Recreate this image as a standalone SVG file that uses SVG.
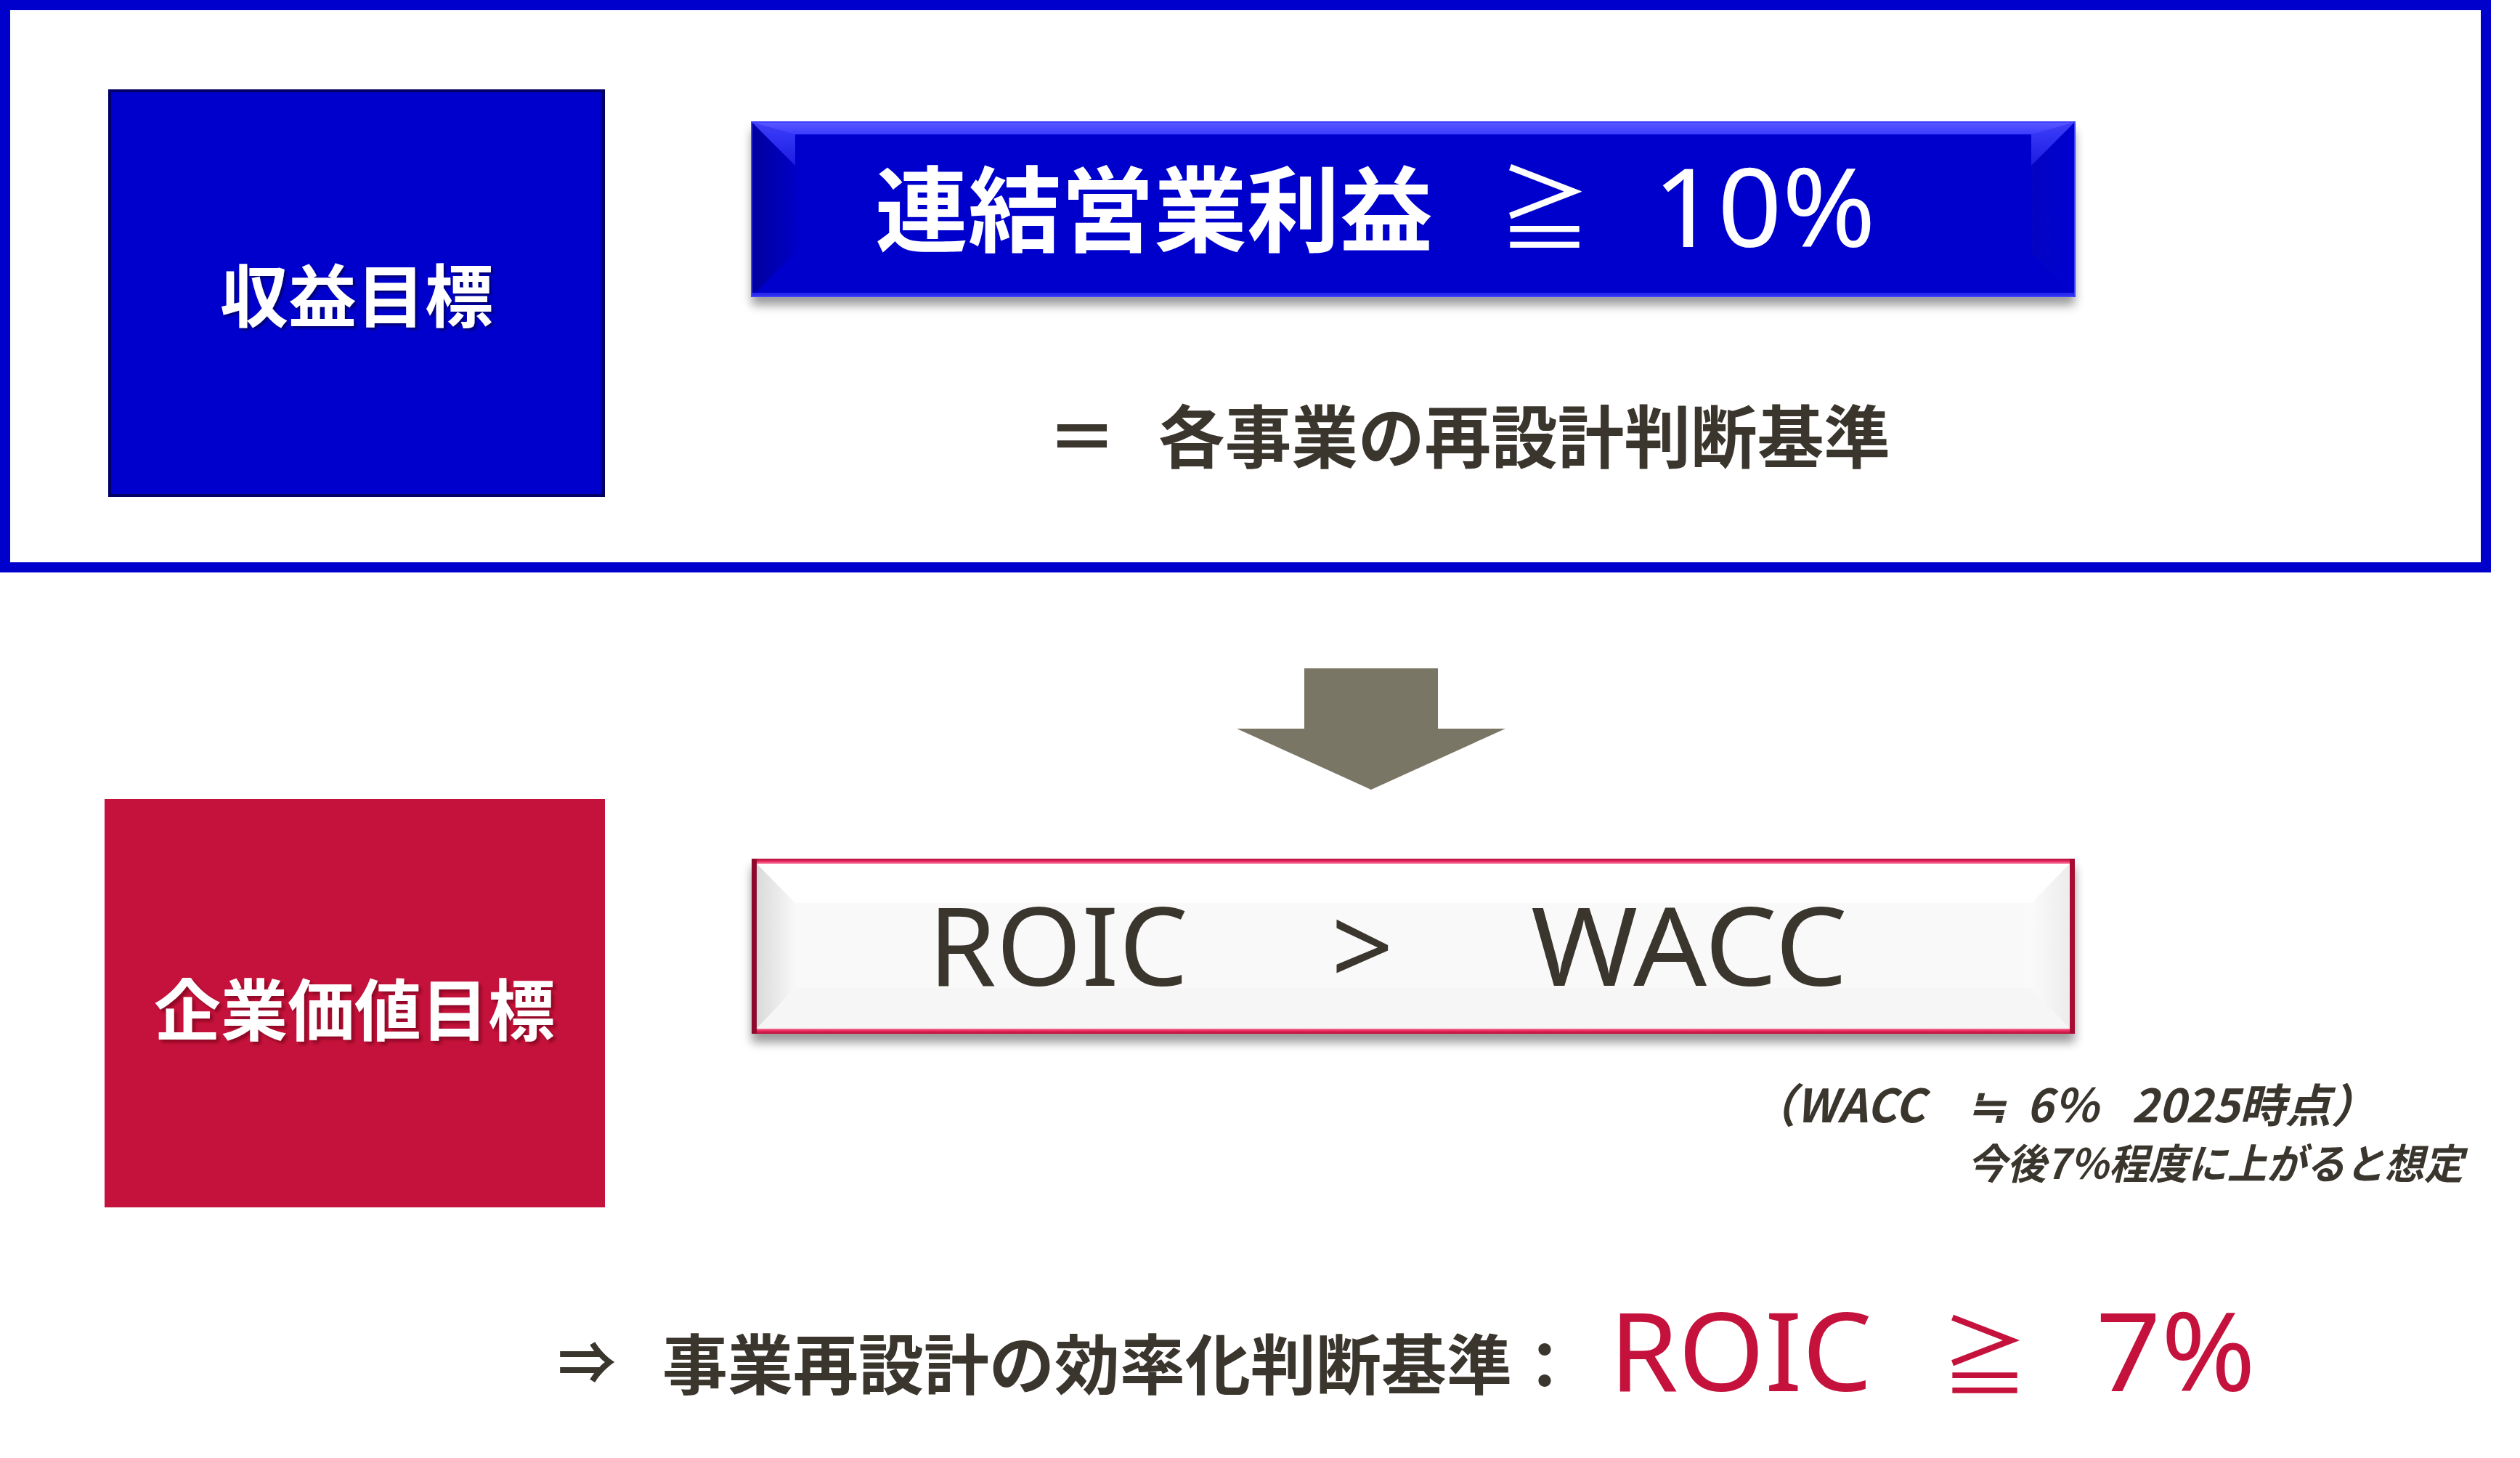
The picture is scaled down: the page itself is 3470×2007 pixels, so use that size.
<svg xmlns="http://www.w3.org/2000/svg" width="3470" height="2007" viewBox="0 0 3470 2007">
<style>
.cjk{font-family:"Noto Sans CJK JP","Noto Sans",sans-serif;}
.lat{font-family:"Noto Sans","Noto Sans CJK JP",sans-serif;}
.dark{fill:#3a362e;}
.white{fill:#ffffff;}
.red{fill:#c5123c;}
.b{font-weight:700;}
.note{font-family:"Noto Sans CJK JP","Noto Sans",sans-serif;font-weight:700;font-style:italic;font-size:57px;fill:#3a362e;}
.note1{font-size:63px;}
</style>
<defs>
<filter id="boxShadow" x="-5%" y="-20%" width="110%" height="160%">
<feGaussianBlur in="SourceAlpha" stdDeviation="7"/>
<feOffset dx="0" dy="12" result="o"/>
<feComponentTransfer in="o" result="s"><feFuncA type="linear" slope="0.4"/></feComponentTransfer>
<feMerge><feMergeNode in="s"/><feMergeNode in="SourceGraphic"/></feMerge>
</filter>
<filter id="txtShadowDark" x="-10%" y="-20%" width="120%" height="150%">
<feDropShadow dx="3" dy="3" stdDeviation="1.5" flood-color="#000033" flood-opacity="0.55"/>
</filter>
<filter id="txtShadowRed" x="-10%" y="-20%" width="120%" height="150%">
<feDropShadow dx="4" dy="4" stdDeviation="2" flood-color="#6a0018" flood-opacity="0.6"/>
</filter>
<linearGradient id="blueTop" x1="0" y1="0" x2="0" y2="1">
<stop offset="0" stop-color="#5a5aff"/><stop offset="0.3" stop-color="#3a3aff"/><stop offset="1" stop-color="#0000cc"/>
</linearGradient>
<linearGradient id="blueLeft" x1="0" y1="0" x2="1" y2="0">
<stop offset="0" stop-color="#00009e"/><stop offset="1" stop-color="#0000c4"/>
</linearGradient>
<linearGradient id="blueRight" x1="0" y1="0" x2="1" y2="0">
<stop offset="0" stop-color="#0404c4"/><stop offset="1" stop-color="#0000d0"/>
</linearGradient>
<linearGradient id="greyLeft" x1="0" y1="0" x2="1" y2="0">
<stop offset="0" stop-color="#dadada"/><stop offset="1" stop-color="#f8f8f8"/>
</linearGradient>
<linearGradient id="greyRight" x1="0" y1="0" x2="1" y2="0">
<stop offset="0" stop-color="#fafafa"/><stop offset="1" stop-color="#ececec"/>
</linearGradient>
<linearGradient id="redTop" x1="0" y1="0" x2="0" y2="1">
<stop offset="0" stop-color="#b00c34"/><stop offset="0.6" stop-color="#f0306a"/><stop offset="1" stop-color="#f48aa8"/>
</linearGradient>
<linearGradient id="redBottom" x1="0" y1="0" x2="0" y2="1">
<stop offset="0" stop-color="#f37a9c"/><stop offset="0.4" stop-color="#ea2a5e"/><stop offset="1" stop-color="#b80e38"/>
</linearGradient>
</defs>

<rect x="0" y="0" width="3470" height="2007" fill="#ffffff"/>

<!-- top frame -->
<g id="frame">
<rect x="7" y="7" width="3416" height="774" fill="#ffffff" stroke="#0000cc" stroke-width="14"/>
</g>

<!-- 収益目標 -->
<g id="node-revenue-label">
<rect x="151" y="125" width="680" height="557" fill="#0000cc" stroke="#000066" stroke-width="4"/>
<text class="cjk b white" x="491" y="443" font-size="94" text-anchor="middle" filter="url(#txtShadowDark)">収益目標</text>
</g>

<!-- 連結営業利益 ≧ 10% -->
<g id="node-revenue-target">
<g filter="url(#boxShadow)">
<rect x="1035" y="168" width="1822" height="240" fill="#0000cc"/>
</g>
<polygon points="1035,168 2857,168 2797,228 1095,228" fill="url(#blueTop)"/>
<rect x="1095" y="185" width="1702" height="43" fill="#0000cc"/>
<polygon points="1035,168 1095,228 1095,348 1035,408" fill="url(#blueLeft)"/>
<polygon points="1035,168 1095,228 1095,185" fill="#3030ee" opacity="0.6"/>
<polygon points="2857,168 2797,228 2797,348 2857,408" fill="url(#blueRight)"/>
<polygon points="2857,168 2797,228 2797,185" fill="#3030ee" opacity="0.6"/>
<rect x="1095" y="228" width="1702" height="120" fill="#0000cc"/>
<polygon points="1035,408 1095,348 2797,348 2857,408" fill="#0000cc"/>
<rect x="1035" y="403" width="1822" height="5" fill="#2a2aee"/>
<rect x="1035" y="168" width="1822" height="240" fill="none" stroke="#4040ff" stroke-width="2"/>
<text class="cjk b white" x="1205" y="337" font-size="128">連結営業利益</text>
<text class="cjk white" x="2127" y="335" font-size="128" text-anchor="middle">≧</text>
<text class="lat white" x="2276" y="340" font-size="150" textLength="307" lengthAdjust="spacingAndGlyphs">10%</text>
</g>

<!-- = 各事業の再設計判断基準 -->
<g id="node-criteria">
<text class="cjk b dark" x="1490" y="637" font-size="96" text-anchor="middle">＝</text>
<text class="cjk b dark" x="1595" y="637" font-size="94" textLength="1008" lengthAdjust="spacingAndGlyphs">各事業の再設計判断基準</text>
</g>

<!-- connector arrow -->
<g id="connectors">
<polygon points="1796,920 1980,920 1980,1003 2073,1003 1888,1087 1703,1003 1796,1003" fill="#7a7666"/>
</g>

<!-- 企業価値目標 -->
<g id="node-value-label">
<rect x="144" y="1100" width="689" height="562" fill="#c5123c"/>
<text class="cjk b white" x="488" y="1425" font-size="92" text-anchor="middle" filter="url(#txtShadowRed)">企業価値目標</text>
</g>

<!-- ROIC > WACC -->
<g id="node-roic-box">
<g filter="url(#boxShadow)">
<rect x="1035" y="1182" width="1822" height="241" fill="#c5123c"/>
</g>
<rect x="1035" y="1182" width="1822" height="7" fill="url(#redTop)"/>
<rect x="1035" y="1416" width="1822" height="7" fill="url(#redBottom)"/>
<rect x="1035" y="1182" width="7" height="241" fill="#8e0a2c"/>
<rect x="2850" y="1182" width="7" height="241" fill="#a80c32"/>
<rect x="1042" y="1189" width="1808" height="227" fill="#ffffff"/>
<polygon points="1042,1189 1095,1243 1095,1360 1042,1416" fill="url(#greyLeft)"/>
<polygon points="2850,1189 2797,1243 2797,1360 2850,1416" fill="url(#greyRight)"/>
<rect x="1095" y="1243" width="1702" height="117" fill="#f9f9f9"/>
<polygon points="1042,1416 1095,1360 2797,1360 2850,1416" fill="#f6f6f6"/>
<text class="lat dark" x="1278" y="1357" font-size="150" textLength="358" lengthAdjust="spacingAndGlyphs">ROIC</text>
<text class="lat dark" x="1876" y="1357" font-size="150" text-anchor="middle">&gt;</text>
<text class="lat dark" x="2108" y="1357" font-size="150" textLength="436" lengthAdjust="spacingAndGlyphs">WACC</text>
</g>

<!-- note -->
<g id="node-note">
<text class="note note1" x="2410" y="1545">（WACC</text>
<text class="note note1" x="2735" y="1545" text-anchor="middle">≒</text>
<text class="note note1" x="2790" y="1545">6％</text>
<text class="note note1" x="2935" y="1545">2025時点）</text>
<text class="note" x="2709" y="1623" textLength="683" lengthAdjust="spacingAndGlyphs">今後7％程度に上がると想定</text>
</g>

<!-- conclusion -->
<g id="node-conclusion">
<text class="cjk b dark" x="808" y="1905" font-size="80" text-anchor="middle">⇒</text>
<text class="cjk b dark" x="912" y="1912" font-size="90">事業再設計の効率化判断基準：</text>
<text class="lat red" x="2216" y="1915" font-size="150" textLength="362" lengthAdjust="spacingAndGlyphs">ROIC</text>
<text class="cjk red" x="2733" y="1912" font-size="120" text-anchor="middle">≧</text>
<text class="lat red" x="2886" y="1915" font-size="150" textLength="220" lengthAdjust="spacingAndGlyphs">7%</text>
</g>
</svg>
